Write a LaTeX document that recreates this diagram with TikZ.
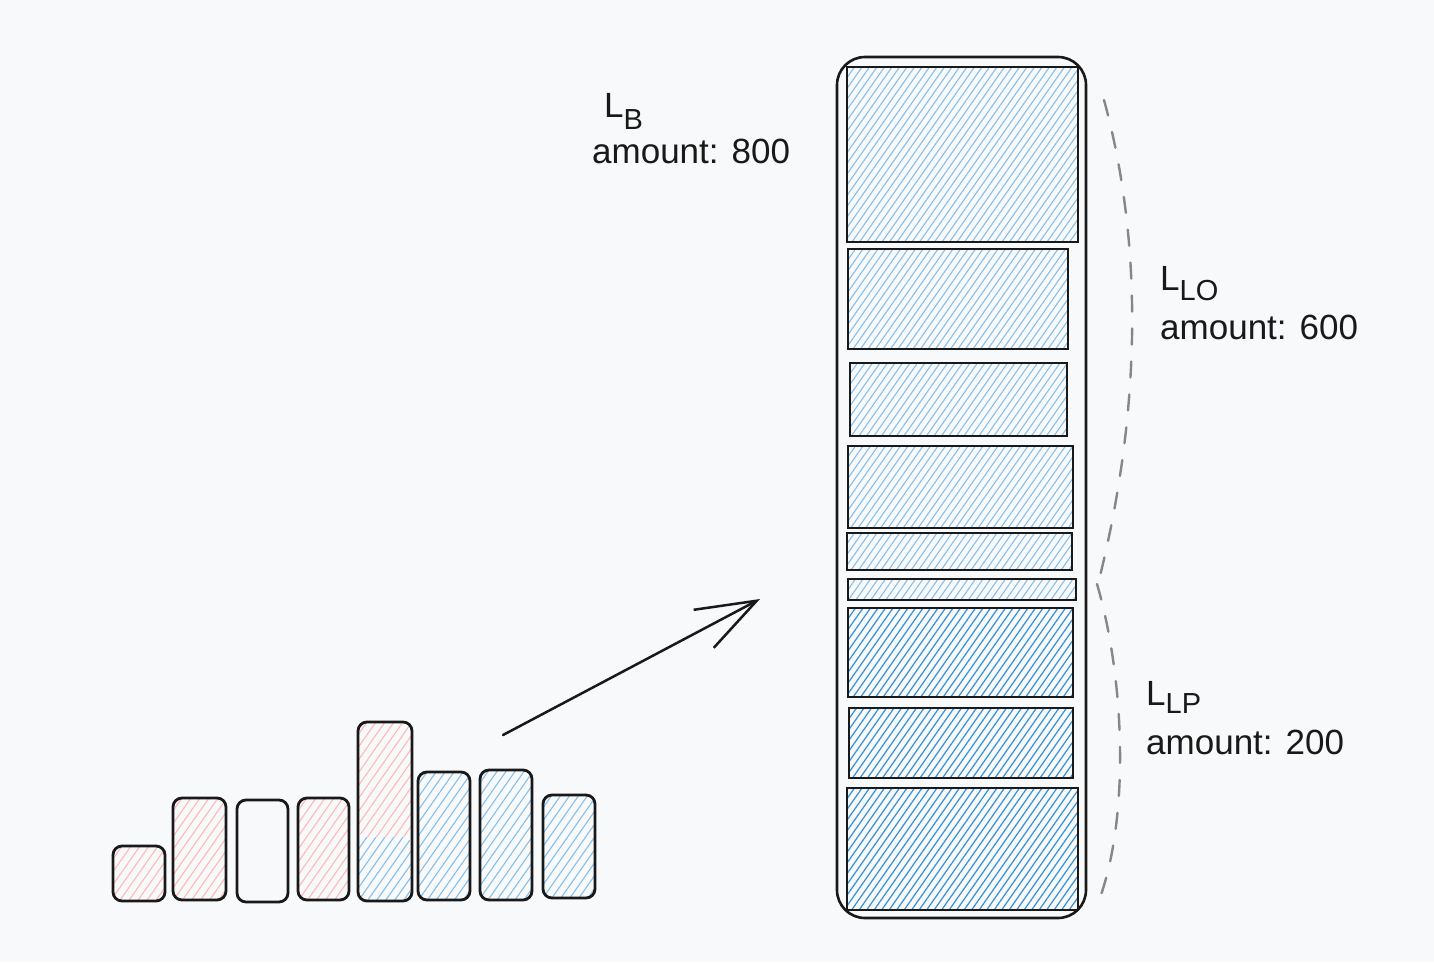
\documentclass[tikz,border=0pt]{standalone}
\usepackage{fontspec}
\setmainfont{Liberation Sans}
\usetikzlibrary{arrows.meta}
\definecolor{bg}{RGB}{248,249,250}
\definecolor{hpink}{RGB}{255,185,185}
\definecolor{hblue}{RGB}{135,192,236}
\definecolor{hdblue}{RGB}{55,145,215}
\definecolor{dgray}{RGB}{135,135,135}
\definecolor{ink}{RGB}{25,25,25}
\newcommand{\hatchrect}[7][]{%
  \begin{scope}
    \clip[#1] (#2,#3) rectangle (#4,#5);
    \pgfmathsetmacro{\hh}{(#5)-(#3)}
    \pgfmathsetmacro{\dx}{\hh*0.7}
    \pgfmathsetmacro{\st}{#2-\dx}
    \pgfmathsetmacro{\sn}{#2-\dx+#7}
    \foreach \o in {\st,\sn,...,#4} \draw[#6] (\o,#5) -- ++(\dx,-\hh);
  \end{scope}}
\begin{document}
\begin{tikzpicture}[x=1pt,y=-1pt,
  bar/.style={draw=ink,line width=2.8pt,rounded corners=9pt,inner sep=0pt},
  seg/.style={draw=ink,line width=2.5pt,inner sep=0pt},
  pinkl/.style={hpink,line width=1.1pt},
  bluel/.style={hblue,line width=1.1pt},
  dbluel/.style={hdblue,line width=1.2pt},
  brace/.style={draw=dgray,line width=2.4pt,dash pattern=on 16pt off 17pt,line cap=round},
  lbl/.style={inner sep=0pt,anchor=base west,font=\fontsize{35}{38}\selectfont,text=ink},
  amt/.style={inner sep=0pt,anchor=base west,font=\fontsize{35}{40}\selectfont,text=ink}
]
\fill[bg] (0,0) rectangle (1434,962);
\useasboundingbox (0,0) rectangle (1434,962);

% hatching of small bars
\hatchrect[rounded corners=9pt]{113}{846}{165}{901}{pinkl}{9}
\hatchrect[rounded corners=9pt]{173}{798}{226}{900}{pinkl}{9}
\hatchrect[rounded corners=9pt]{298}{798}{349}{900}{pinkl}{9}
\hatchrect[rounded corners=9pt]{358}{722}{412}{837}{pinkl}{9}
\hatchrect[rounded corners=9pt]{358}{837}{412}{901}{bluel}{9}
\hatchrect[rounded corners=9pt]{418}{772}{470}{900}{bluel}{9}
\hatchrect[rounded corners=9pt]{480}{770}{532}{900}{bluel}{9}
\hatchrect[rounded corners=9pt]{543}{795}{595}{898}{bluel}{9}

% small bars
\node[bar,minimum width=52pt,minimum height=55pt] (b1) at (139,873.5) {};
\node[bar,minimum width=53pt,minimum height=102pt] (b2) at (199.5,849) {};
\node[bar,minimum width=51pt,minimum height=102pt] (b3) at (262.5,851) {};
\node[bar,minimum width=51pt,minimum height=102pt] (b4) at (323.5,849) {};
\node[bar,minimum width=54pt,minimum height=179pt] (b5) at (385,811.5) {};
\node[bar,minimum width=52pt,minimum height=128pt] (b6) at (444,836) {};
\node[bar,minimum width=52pt,minimum height=130pt] (b7) at (506,835) {};
\node[bar,minimum width=52pt,minimum height=103pt] (b8) at (569,846.5) {};

% hatching of stack segments
\hatchrect{847}{67}{1078}{242}{bluel}{7.5}
\hatchrect{848}{249}{1068}{349}{bluel}{7.5}
\hatchrect{850}{363}{1067}{436}{bluel}{7.5}
\hatchrect{848}{446}{1073}{528}{bluel}{7.5}
\hatchrect{847}{533}{1072}{570}{bluel}{7.5}
\hatchrect{848}{579}{1076}{600}{bluel}{7.5}
\hatchrect{848}{608}{1073}{697}{dbluel}{7.5}
\hatchrect{849}{708}{1073}{778}{dbluel}{7.5}
\hatchrect{847}{788}{1078}{910}{dbluel}{7.5}

% stack segments
\node[seg,minimum width=231pt,minimum height=175pt] (s1) at (962.5,154.5) {};
\node[seg,minimum width=220pt,minimum height=100pt] (s2) at (958,299) {};
\node[seg,minimum width=217pt,minimum height=73pt] (s3) at (958.5,399.5) {};
\node[seg,minimum width=225pt,minimum height=82pt] (s4) at (960.5,487) {};
\node[seg,minimum width=225pt,minimum height=37pt] (s5) at (959.5,551.5) {};
\node[seg,minimum width=228pt,minimum height=21pt] (s6) at (962,589.5) {};
\node[seg,minimum width=225pt,minimum height=89pt] (s7) at (960.5,652.5) {};
\node[seg,minimum width=224pt,minimum height=70pt] (s8) at (961,743) {};
\node[seg,minimum width=231pt,minimum height=122pt] (s9) at (962.5,849) {};
% outer container
\node[draw=ink,line width=2.6pt,rounded corners=28pt,inner sep=0pt,minimum width=249pt,minimum height=861pt] (stack) at (961.5,487.5) {};

% dashed braces
\coordinate (c1s) at (1104,100);
\coordinate (c1e) at (1097,588);
\draw[brace] (c1s) .. controls (1145,250) and (1140,420) .. (c1e);
\coordinate (c2s) at (1097,584);
\coordinate (c2e) at (1098,903);
\draw[brace] (c2s) .. controls (1125,680) and (1130,820) .. (c2e);

% arrow
\coordinate (as) at (503,735);
\coordinate (ae) at (760,599);
\draw[ink,line width=2.5pt,line cap=round,-{Straight Barb[length=60pt,width=43pt,line width=2.5pt]}] (as) -- (ae);

% labels
\node[lbl] (tB) at (604,117) {L\raisebox{-12pt}{\fontsize{29}{29}\selectfont B}};
\node[amt] (aB) at (592,163) {amount: 800};
\node[lbl] (tLO) at (1160,290) {L\raisebox{-10pt}{\fontsize{29}{29}\selectfont LO}};
\node[amt] (aLO) at (1160,339) {amount: 600};
\node[lbl] (tLP) at (1146,705) {L\raisebox{-8pt}{\fontsize{29}{29}\selectfont LP}};
\node[amt] (aLP) at (1146,754) {amount: 200};
\end{tikzpicture}
\end{document}
